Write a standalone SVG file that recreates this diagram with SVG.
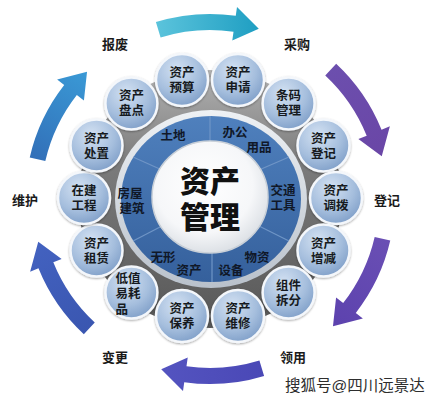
<svg xmlns="http://www.w3.org/2000/svg" width="439" height="404" viewBox="0 0 439 404">
<defs>
<linearGradient id="gGrey" x1="0" y1="0" x2="0" y2="1">
<stop offset="0" stop-color="#b4b4b4"/><stop offset="0.35" stop-color="#7c7c7c"/><stop offset="1" stop-color="#575757"/>
</linearGradient>
<linearGradient id="gRim" x1="0" y1="0" x2="0" y2="1">
<stop offset="0" stop-color="#eef1f4"/><stop offset="1" stop-color="#b9c1cb"/>
</linearGradient>
<linearGradient id="gBlue" x1="0" y1="0" x2="0" y2="1">
<stop offset="0" stop-color="#4f80bd"/><stop offset="1" stop-color="#35609c"/>
</linearGradient>
<radialGradient id="gWhite" cx="0.45" cy="0.4" r="0.6">
<stop offset="0" stop-color="#ffffff"/><stop offset="0.7" stop-color="#f6f7f9"/><stop offset="1" stop-color="#dde1e6"/>
</radialGradient>
<radialGradient id="gBub" cx="0.4" cy="0.3" r="0.75">
<stop offset="0" stop-color="#d3e1f2"/><stop offset="0.6" stop-color="#a5bedd"/><stop offset="1" stop-color="#7d9dc7"/>
</radialGradient>
<linearGradient id="a0" gradientUnits="userSpaceOnUse" x1="155" y1="0" x2="260" y2="0"><stop offset="0" stop-color="#5cc4dc"/><stop offset="1" stop-color="#1e9ec2"/></linearGradient>
<linearGradient id="a1" gradientUnits="userSpaceOnUse" x1="155" y1="0" x2="260" y2="0"><stop offset="0" stop-color="#6c4fae"/><stop offset="1" stop-color="#6a46a6"/></linearGradient>
<linearGradient id="a2" gradientUnits="userSpaceOnUse" x1="155" y1="0" x2="260" y2="0"><stop offset="0" stop-color="#6a4fb4"/><stop offset="1" stop-color="#5c42ae"/></linearGradient>
<linearGradient id="a3" gradientUnits="userSpaceOnUse" x1="155" y1="0" x2="260" y2="0"><stop offset="0" stop-color="#4a48b6"/><stop offset="1" stop-color="#5454c0"/></linearGradient>
<linearGradient id="a4" gradientUnits="userSpaceOnUse" x1="155" y1="0" x2="260" y2="0"><stop offset="0" stop-color="#3a56b0"/><stop offset="1" stop-color="#4362c0"/></linearGradient>
<linearGradient id="a5" gradientUnits="userSpaceOnUse" x1="155" y1="0" x2="260" y2="0"><stop offset="0" stop-color="#326fb8"/><stop offset="1" stop-color="#3a9ad6"/></linearGradient>
<path id="arrow" d="M155.91,22.08 A185,185 0 0 1 235.75,15.79 L237.00,6.88 L258.78,28.85 L232.27,40.55 L233.52,31.64 A169,169 0 0 0 160.58,37.39 Z"/>
<filter id="sh" x="-20%" y="-20%" width="140%" height="140%"><feDropShadow dx="0" dy="1" stdDeviation="1.2" flood-color="#000" flood-opacity="0.35"/></filter>
</defs>
<style>
text{font-family:"Liberation Sans","Noto Sans CJK SC",sans-serif;font-weight:bold}
.bub{fill:url(#gBub);stroke:#f4f7fb;stroke-width:2.5;filter:url(#sh)}
.bt{font-size:12.5px;fill:#161a20;text-anchor:middle}
.st{font-size:12.5px;fill:#101828;text-anchor:middle}
.ot{font-size:13px;fill:#1a1a1a;text-anchor:middle}
.ct{font-weight:900;font-size:30px;fill:#111;text-anchor:middle}
.wm{font-weight:normal;font-size:15.5px;fill:#2e2e2e;stroke:#ffffff;stroke-width:1.5;paint-order:stroke}
.div{stroke:#6f95c6;stroke-width:1.2}
</style>
<rect width="439" height="404" fill="#ffffff"/>
<g id="connectors">
<use href="#arrow" fill="url(#a0)"/>
<use href="#arrow" fill="url(#a1)" transform="rotate(60 210 199)"/>
<use href="#arrow" fill="url(#a2)" transform="rotate(120 210 199)"/>
<use href="#arrow" fill="url(#a3)" transform="rotate(180 210 199)"/>
<use href="#arrow" fill="url(#a4)" transform="rotate(240 210 199)"/>
<use href="#arrow" fill="url(#a5)" transform="rotate(300 210 199)"/>
</g>
<g id="outer-labels">
<text class="ot" x="115" y="49">报废</text>
<text class="ot" x="297" y="49">采购</text>
<text class="ot" x="387" y="205">登记</text>
<text class="ot" x="293" y="362">领用</text>
<text class="ot" x="115" y="362">变更</text>
<text class="ot" x="25" y="205">维护</text>
</g>
<g id="hub">
<ellipse cx="210" cy="199" rx="132" ry="129" fill="url(#gGrey)"/>
<ellipse cx="211" cy="199" rx="96" ry="89" fill="url(#gRim)"/>
<ellipse cx="211" cy="199" rx="90" ry="83" fill="url(#gBlue)"/>
<line class="div" x1="210" y1="142" x2="210" y2="116"/>
<line class="div" x1="259" y1="170" x2="289" y2="157"/>
<line class="div" x1="259" y1="226" x2="289" y2="241"/>
<line class="div" x1="212" y1="252" x2="212" y2="282"/>
<line class="div" x1="162" y1="226" x2="133" y2="241"/>
<line class="div" x1="162" y1="170" x2="133" y2="157"/>
<ellipse cx="210" cy="197" rx="58" ry="56" fill="url(#gWhite)" stroke="#c9d0d8" stroke-width="1.5"/>
<text class="ct"><tspan x="210" y="192">资产</tspan><tspan x="210" y="228">管理</tspan></text>
</g>
<g id="sectors">
<text class="st" x="173" y="140">土地</text>
<text class="st"><tspan x="235" y="137">办公</tspan><tspan x="259" y="152">用品</tspan></text>
<text class="st"><tspan x="283" y="195">交通</tspan><tspan x="283" y="210">工具</tspan></text>
<text class="st"><tspan x="257" y="262">物资</tspan><tspan x="231" y="275">设备</tspan></text>
<text class="st"><tspan x="163" y="262">无形</tspan><tspan x="189" y="275">资产</tspan></text>
<text class="st"><tspan x="130" y="198">房屋</tspan><tspan x="132" y="213">建筑</tspan></text>
</g>
<g id="n-shenqing"><circle class="bub" cx="238" cy="80" r="26"/><text class="bt"><tspan x="238" y="77">资产</tspan><tspan x="238" y="92">申请</tspan></text></g>
<g id="n-tiaoma"><circle class="bub" cx="288.6" cy="103.4" r="26"/><text class="bt"><tspan x="288.6" y="100.4">条码</tspan><tspan x="288.6" y="115.4">管理</tspan></text></g>
<g id="n-dengji"><circle class="bub" cx="323.5" cy="145.5" r="26"/><text class="bt"><tspan x="323.5" y="142.5">资产</tspan><tspan x="323.5" y="157.5">登记</tspan></text></g>
<g id="n-diaobo"><circle class="bub" cx="336" cy="198" r="26"/><text class="bt"><tspan x="336" y="195">资产</tspan><tspan x="336" y="210">调拨</tspan></text></g>
<g id="n-zengjian"><circle class="bub" cx="323.5" cy="250.5" r="26"/><text class="bt"><tspan x="323.5" y="247.5">资产</tspan><tspan x="323.5" y="262.5">增减</tspan></text></g>
<g id="n-chaifen"><circle class="bub" cx="288.6" cy="292.6" r="26"/><text class="bt"><tspan x="288.6" y="289.6">组件</tspan><tspan x="288.6" y="304.6">拆分</tspan></text></g>
<g id="n-weixiu"><circle class="bub" cx="238" cy="316" r="26"/><text class="bt"><tspan x="238" y="313">资产</tspan><tspan x="238" y="328">维修</tspan></text></g>
<g id="n-baoyang"><circle class="bub" cx="182" cy="316" r="26"/><text class="bt"><tspan x="182" y="313">资产</tspan><tspan x="182" y="328">保养</tspan></text></g>
<g id="n-dizhi"><circle class="bub" cx="131.4" cy="292.6" r="26"/><text class="bt" style="text-anchor:start"><tspan x="115.5" y="283">低值</tspan><tspan x="115.5" y="298">易耗</tspan><tspan x="115.5" y="313.5">品</tspan></text></g>
<g id="n-zulin"><circle class="bub" cx="96.5" cy="250.5" r="26"/><text class="bt"><tspan x="96.5" y="247.5">资产</tspan><tspan x="96.5" y="262.5">租赁</tspan></text></g>
<g id="n-zaijian"><circle class="bub" cx="84" cy="198" r="26"/><text class="bt"><tspan x="84" y="195">在建</tspan><tspan x="84" y="210">工程</tspan></text></g>
<g id="n-chuzhi"><circle class="bub" cx="96.5" cy="145.5" r="26"/><text class="bt"><tspan x="96.5" y="142.5">资产</tspan><tspan x="96.5" y="157.5">处置</tspan></text></g>
<g id="n-pandian"><circle class="bub" cx="131.4" cy="103.4" r="26"/><text class="bt"><tspan x="131.4" y="100.4">资产</tspan><tspan x="131.4" y="115.4">盘点</tspan></text></g>
<g id="n-yusuan"><circle class="bub" cx="182" cy="80" r="26"/><text class="bt"><tspan x="182" y="77">资产</tspan><tspan x="182" y="92">预算</tspan></text></g>
<text class="wm" x="285" y="391">搜狐号@四川远景达</text>
</svg>
